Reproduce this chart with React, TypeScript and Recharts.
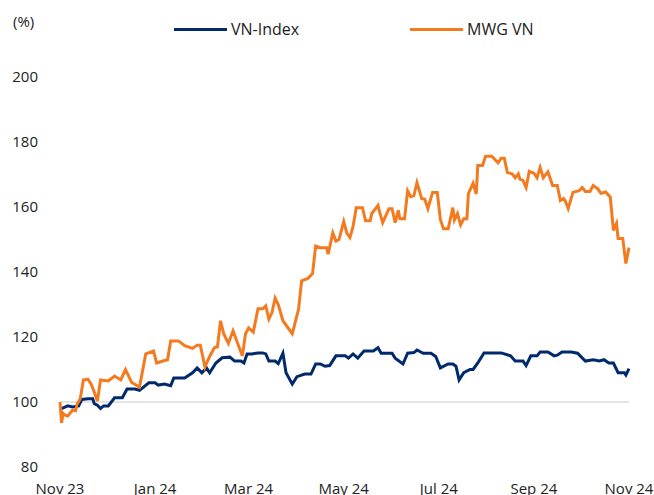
import { Label, Legend, Line, LineChart, ReferenceLine, XAxis, YAxis } from "recharts";

// days since 13 Nov 2023, values indexed to 100
const MWG_DAYS = [
	0, 1, 2, 3, 5, 8, 10, 11, 13, 15, 18, 20, 22, 24, 26, 31, 35, 39, 42, 46,
	51, 55, 60, 62, 66, 69, 71, 76, 80, 85, 88, 90, 93, 96, 99, 101, 103, 105,
	108, 111, 114, 117, 119, 121, 124, 127, 130, 132, 134, 136, 138, 140, 143,
	146, 149, 153, 155, 159, 162, 164, 167, 171, 172, 175, 177, 179, 182, 184,
	186, 188, 190, 194, 196, 199, 200, 204, 205, 207, 211, 213, 215, 217, 218,
	221, 223, 225, 227, 229, 232, 234, 236, 239, 242, 244, 246, 249, 252, 253,
	255, 257, 259, 261, 262, 265, 267, 268, 271, 273, 277, 281, 283, 285, 287,
	290, 292, 294, 295, 297, 299, 301, 304, 306, 308, 310, 313, 316, 319, 321,
	323, 324, 326, 329, 333, 335, 337, 340, 342, 345, 347, 350, 353, 355, 357,
	358, 361, 363, 365,
];
const MWG = [
	100, 93.6, 96.5, 96, 95.7, 97.5, 97.3, 99.4, 101, 106.8, 107, 105.5, 103,
	100.3, 106.8, 106.5, 108, 106.8, 110, 106, 104.6, 114.8, 115.7, 112, 112.6,
	113, 118.8, 118.8, 117.3, 116.5, 117.5, 117.5, 110.8, 114, 116.7, 117, 125,
	121, 118, 121.9, 118, 114.2, 121, 122.8, 121.5, 128.7, 128.7, 129.6, 125.5,
	127.5, 132, 130, 125, 123, 121, 128.5, 137.3, 138, 139.5, 148, 147.5, 147.5,
	145.5, 152, 149.5, 150, 155.5, 152, 150.6, 154, 159.8, 159.8, 155.8, 155.8,
	158, 160.5, 158.5, 155.2, 159.5, 159.5, 155.2, 159, 156.4, 156.4, 165, 163.2,
	163.5, 167.5, 162.6, 162.4, 159.5, 164.5, 164.5, 156.2, 153.3, 153.3, 159.8,
	156, 158, 154.5, 156.4, 156.4, 164.2, 167.3, 164, 172.8, 172.8, 175.6, 175.6,
	173.6, 175, 175, 170.6, 170.2, 169, 170.2, 168.6, 168.2, 166, 171, 170.4, 169,
	172.2, 169, 170.8, 166.6, 166.6, 162, 162.6, 162, 159.5, 164.5, 165, 166,
	164.8, 164.8, 166.6, 165.6, 164.2, 164.6, 163, 152.8, 155, 150.3, 150.3,
	142.6, 147.5,
];

const VNI_DAYS = [
	0, 2, 5, 8, 12, 14, 18, 21, 22, 24, 26, 28, 31, 35, 40, 43, 48, 51, 57, 61,
	63, 67, 71, 73, 80, 85, 88, 91, 94, 96, 100, 104, 109, 112, 116, 118, 120,
	123, 127, 130, 132, 134, 138, 140, 143, 145, 149, 152, 157, 161, 164, 167,
	170, 173, 177, 180, 183, 185, 188, 191, 195, 201, 204, 206, 213, 215, 220,
	223, 227, 229, 233, 238, 241, 244, 249, 252, 254, 256, 259, 263, 265, 268,
	272, 281, 283, 289, 292, 297, 299, 302, 306, 308, 313, 317, 319, 322, 328,
	332, 337, 342, 346, 349, 352, 355, 358, 362, 363, 365,
];
const VNI = [
	97.8, 98.2, 98.8, 98.5, 98.8, 100.8, 101, 101, 99.5, 99, 98, 98.8, 98.8,
	101.3, 101.3, 104, 104, 103.6, 105.9, 105.9, 105.2, 105.5, 105, 107.4, 107.4,
	109, 110.5, 109, 110.5, 109, 112, 113.6, 113.8, 112.6, 112.6, 112, 114.8,
	114.8, 115.1, 115.1, 114.8, 112.6, 112.6, 111.8, 115, 109, 105.5, 107.8,
	108.6, 108.6, 111.7, 111.7, 111, 111.2, 114.2, 114.2, 114.2, 113.5, 114.8,
	113.5, 115.7, 115.7, 116.7, 115, 115, 113.5, 111.7, 115, 115.2, 116, 115, 115,
	114, 110.5, 111.7, 111.7, 111, 106.8, 109, 110, 110, 112, 115.1, 115.1, 115.1,
	114.2, 112.6, 112.6, 111.2, 114.2, 114.2, 115.4, 115.4, 114.2, 114.4, 115.4,
	115.4, 115, 112.6, 113, 112.6, 113, 112, 112, 109, 109, 108.3, 110.3,
];

const X_TICKS = [0, 61, 121, 182, 243, 304, 365];
const X_LABELS = ["Nov 23", "Jan 24", "Mar 24", "May 24", "Jul 24", "Sep 24", "Nov 24"];
const Y_TICKS = [80, 100, 120, 140, 160, 180, 200];
const SERIES_NAMES = ["VN-Index", "MWG VN"];

const NAVY = "#002a6c";
const ORANGE = "#f47a20";
const FONT = "'Open Sans', 'Noto Sans', sans-serif";

const vniData = VNI_DAYS.map((d, i) => ({ day: d, value: VNI[i] }));
const mwgData = MWG_DAYS.map((d, i) => ({ day: d, value: MWG[i] }));

const LEGEND_LEFT = [174, 410];

function renderLegend(props: any) {
	const items = [...(props.payload || [])].sort(
		(a: any, b: any) => SERIES_NAMES.indexOf(a.value) - SERIES_NAMES.indexOf(b.value),
	);
	return (
		<div style={{ position: "relative", width: 654, height: 40, fontFamily: FONT, fontSize: 16, color: "#222" }}>
			{items.map((it: any, i: number) => (
				<div
					key={it.value}
					style={{ position: "absolute", left: LEGEND_LEFT[i], top: 19, display: "flex", alignItems: "center" }}
				>
					<span style={{ display: "inline-block", width: 53, height: 3, background: it.color, marginRight: 4 }} />
					<span style={{ lineHeight: "21px" }}>{it.value}</span>
				</div>
			))}
		</div>
	);
}

export default function App() {
	return (
		<div style={{ position: "fixed", left: 0, top: 0, width: 654, height: 495, background: "#fff" }}>
			<LineChart width={654} height={495} margin={{ top: 77, right: 25, bottom: 0, left: 0 }}>
				<XAxis
					type="number"
					dataKey="day"
					domain={[0, 365]}
					ticks={X_TICKS}
					tickFormatter={(v) => X_LABELS[X_TICKS.indexOf(v)] ?? ""}
					axisLine={false}
					tickLine={false}
					tickMargin={10}
					height={28}
					interval={0}
					tick={{ fill: "#222", fontSize: 15, fontFamily: FONT }}
				/>
				<YAxis
					domain={[80, 200]}
					ticks={Y_TICKS}
					axisLine={false}
					tickLine={false}
					tickMargin={16}
					width={60}
					tick={{ fill: "#222", fontSize: 15, fontFamily: FONT }}
				>
					<Label
						content={() => (
							<text x={13} y={27} fill="#222" fontSize={15} fontFamily={FONT}>
								(%)
							</text>
						)}
					/>
				</YAxis>
				<ReferenceLine y={100} stroke="#c8c8c8" strokeWidth={1} />
				<Legend
					verticalAlign="middle"
					align="center"
					wrapperStyle={{ top: 0, left: 0, width: 654, height: 40 }}
					content={renderLegend}
				/>
				<Line
					data={vniData}
					dataKey="value"
					name="VN-Index"
					stroke={NAVY}
					strokeWidth={3}
					dot={false}
					type="linear"
					isAnimationActive={false}
				/>
				<Line
					data={mwgData}
					dataKey="value"
					name="MWG VN"
					stroke={ORANGE}
					strokeWidth={3}
					dot={false}
					type="linear"
					isAnimationActive={false}
				/>
			</LineChart>
		</div>
	);
}
